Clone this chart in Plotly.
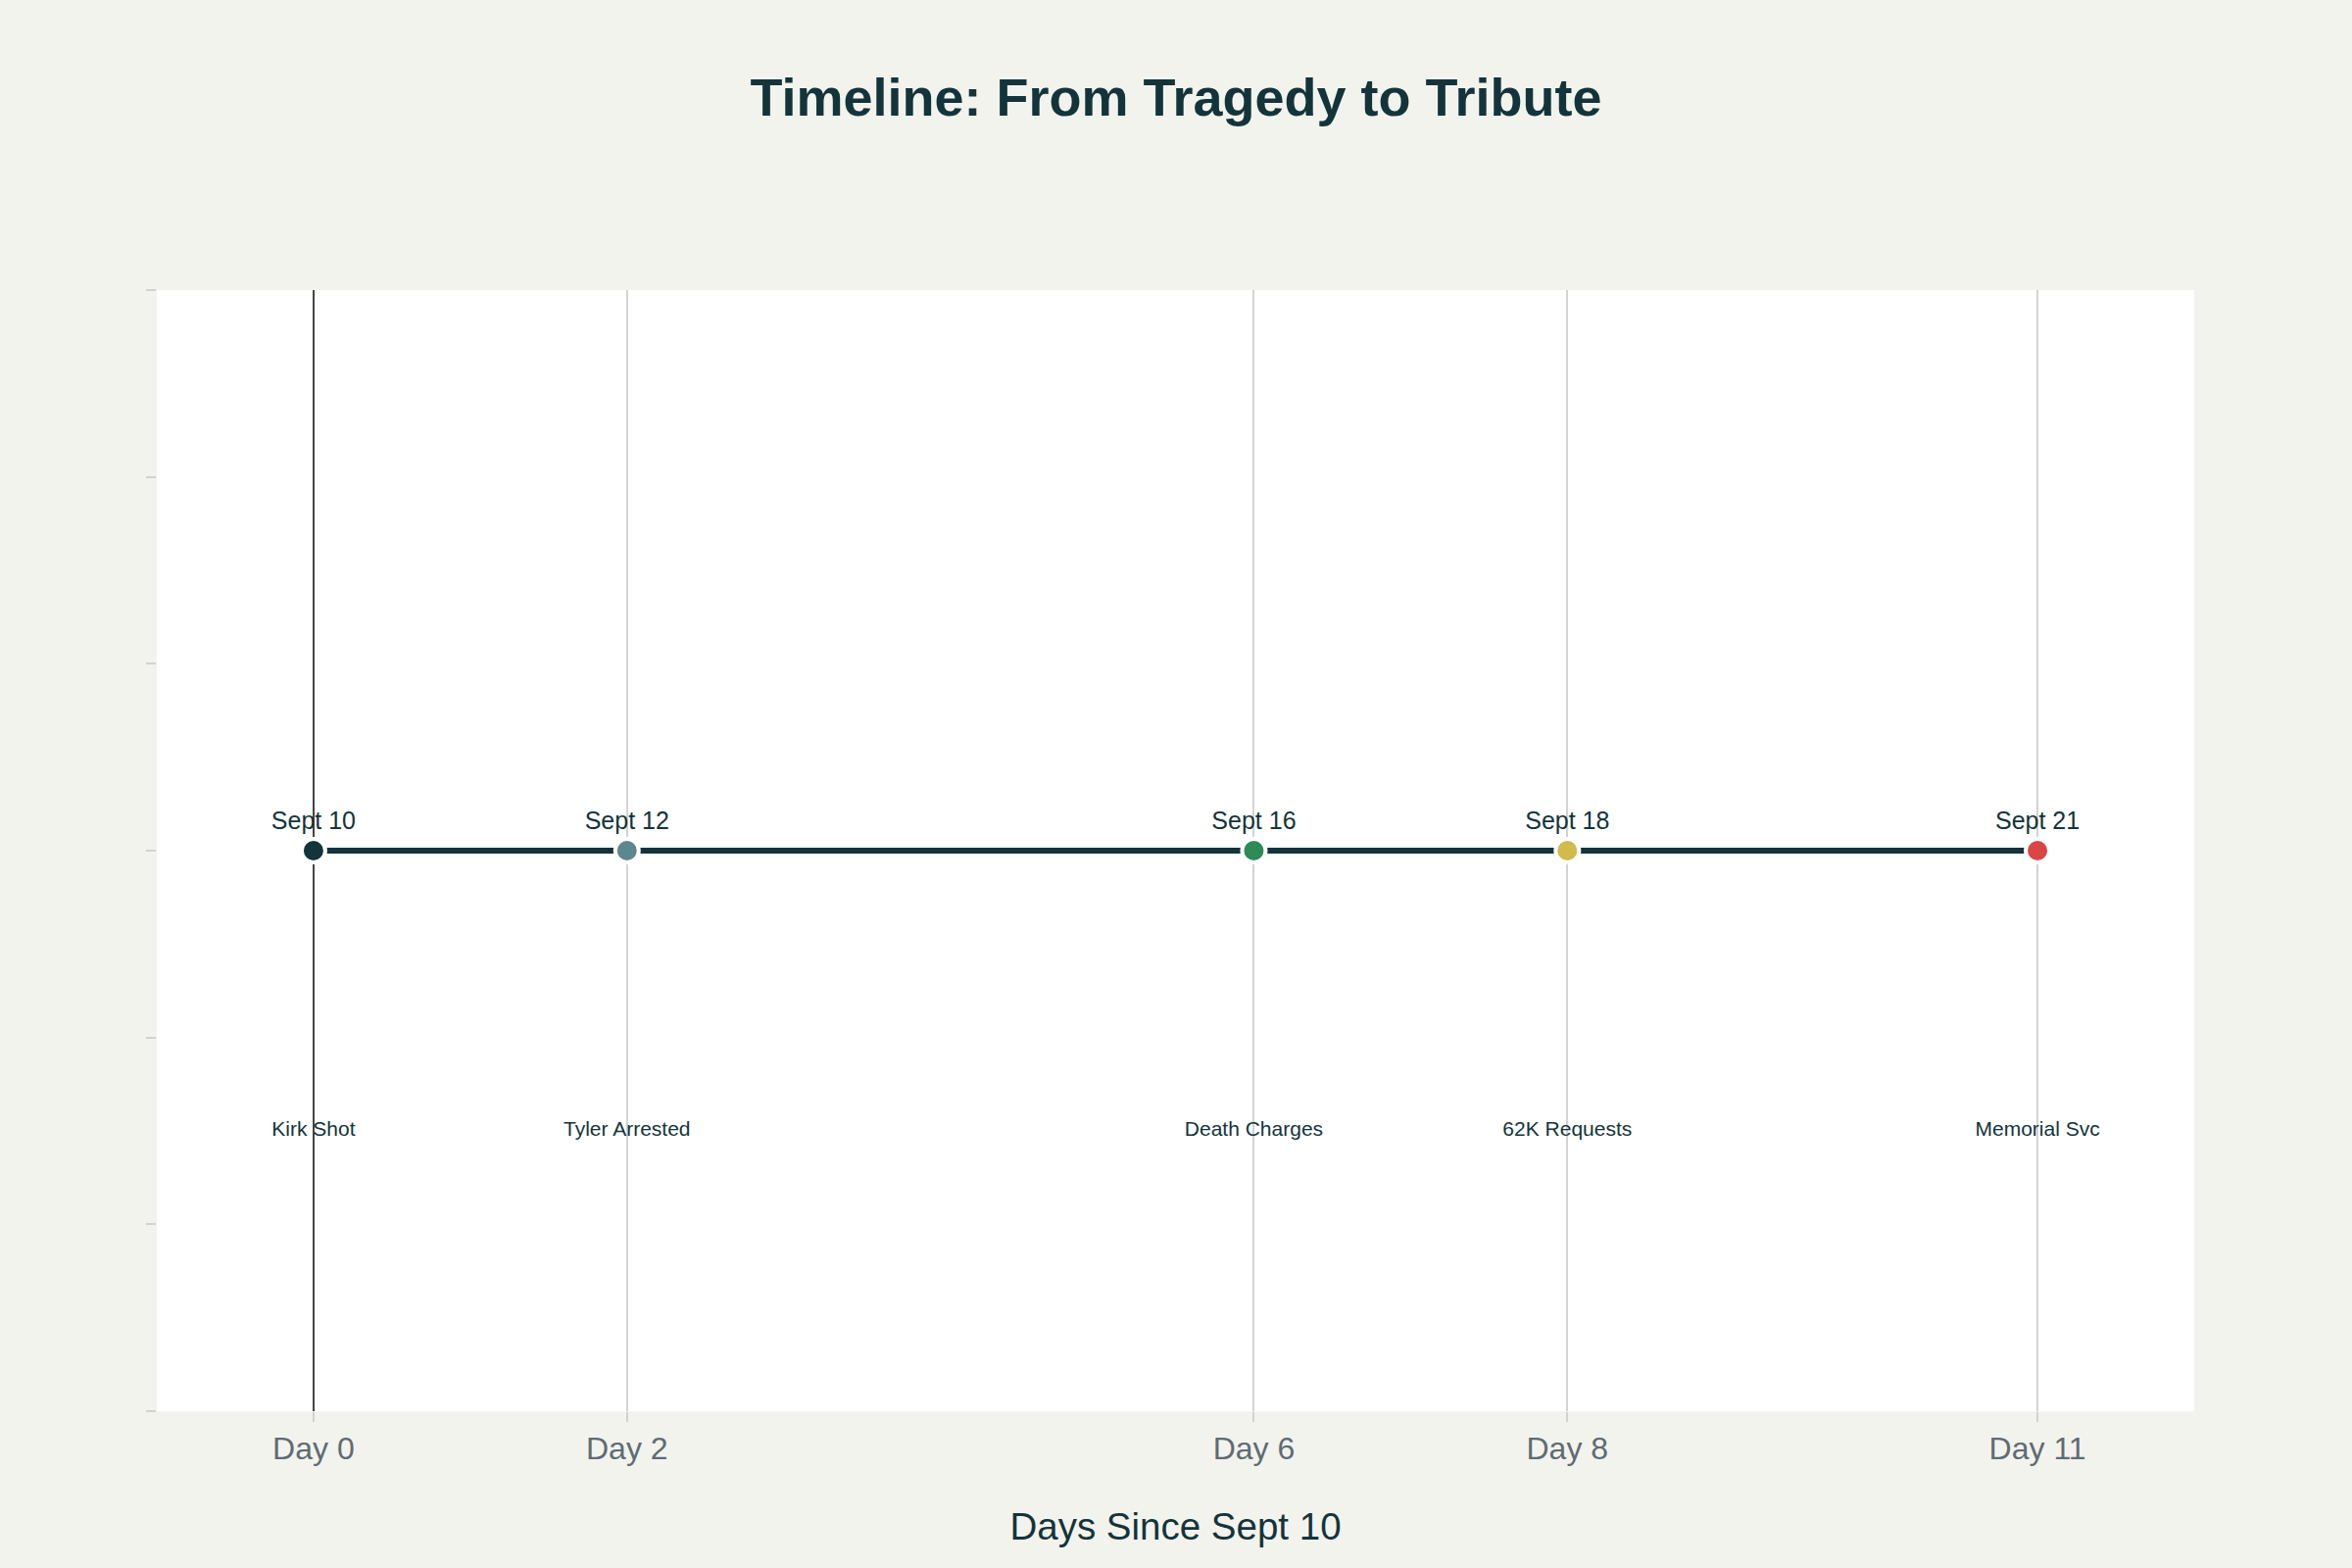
import plotly.graph_objects as go

# Timeline events (day offsets from Sept 10)
days = [0, 2, 6, 8, 11]
dates = ["Sept 10", "Sept 12", "Sept 16", "Sept 18", "Sept 21"]
events = ["Kirk Shot", "Tyler Arrested", "Death Charges", "62K Requests", "Memorial Svc"]
colors = ["#13343B", "#5D878F", "#2E8B57", "#D2BA4C", "#DB4545"]
tick_text = ["Day 0", "Day 2", "Day 6", "Day 8", "Day 11"]

FONT = "Liberation Sans, Arial, sans-serif"
DARK = "#13343B"

fig = go.Figure()

# main line with date markers
fig.add_trace(go.Scatter(
    x=days, y=[0] * len(days),
    mode="lines+markers+text",
    line=dict(color=DARK, width=6),
    marker=dict(size=24, color=colors, line=dict(color="white", width=4)),
    text=dates, textposition="top center",
    textfont=dict(size=25, color=DARK, family=FONT),
    showlegend=False, hoverinfo="skip",
))

# event labels below the line
fig.add_trace(go.Scatter(
    x=days, y=[-0.75] * len(days),
    mode="text",
    text=events, textposition="middle center",
    textfont=dict(size=21, color=DARK, family=FONT),
    showlegend=False, hoverinfo="skip",
))

fig.update_layout(
    width=2400, height=1600,
    paper_bgcolor="#F3F3EE", plot_bgcolor="white",
    font=dict(family=FONT, color=DARK),
    title=dict(text="<b>Timeline: From Tragedy to Tribute</b>", x=0.5, xanchor="center",
               y=1 - 99 / 1600, yanchor="middle", font=dict(size=54, color=DARK, family=FONT)),
    margin=dict(l=160, r=161, t=296, b=160),
)

fig.update_xaxes(
    range=[-1, 12], tickvals=days, ticktext=tick_text,
    showgrid=True, gridcolor="#D3D3D3", gridwidth=2,
    zeroline=True, zerolinecolor="#444444", zerolinewidth=2,
    ticks="outside", ticklen=10, tickwidth=2, tickcolor="#D3D1CD",
    tickfont=dict(size=32, color="#5F6B73", family=FONT),
    title=dict(text="Days Since Sept 10", font=dict(size=38.5, color=DARK, family=FONT), standoff=48),
    showline=False, automargin=False,
)
fig.update_yaxes(
    range=[-1.5, 1.5], dtick=0.5, tick0=0,
    showgrid=False, zeroline=False, showticklabels=False,
    ticks="outside", ticklen=10, tickwidth=2, tickcolor="#D3D1CD",
    showline=False, automargin=False,
)

fig.write_html("out.html", config={"displayModeBar": False},
               post_script="document.body.style.margin='0';")
